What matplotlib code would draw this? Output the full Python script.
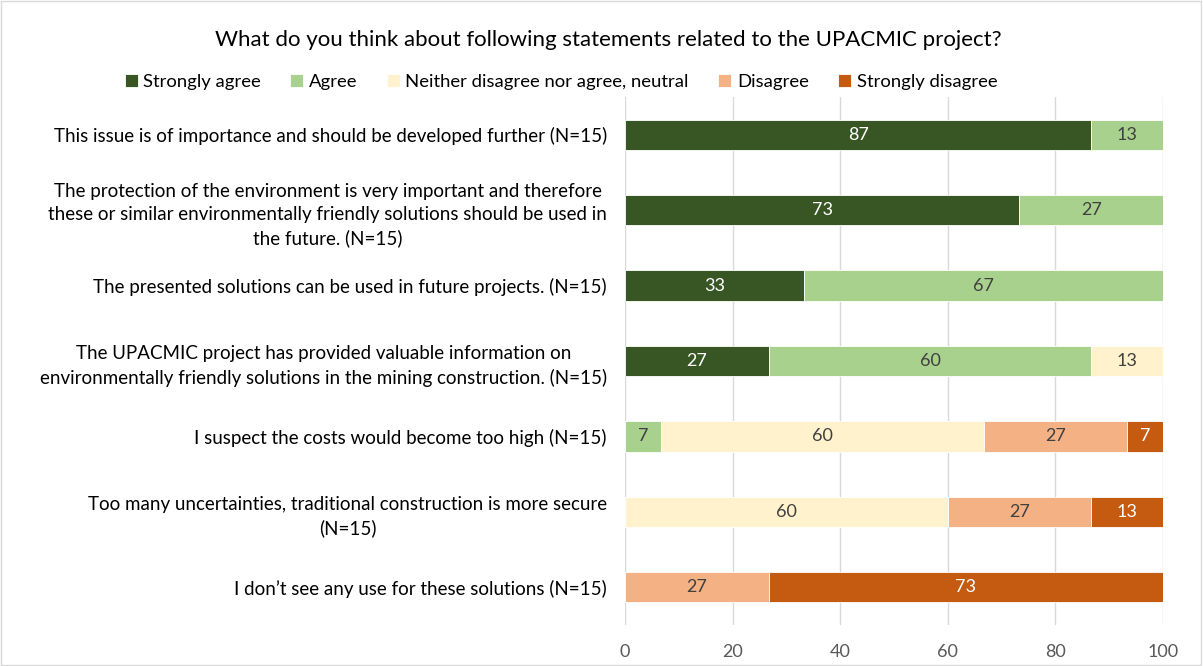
import matplotlib.pyplot as plt
import numpy as np
from matplotlib.patches import Rectangle

plt.rcParams['font.family'] = ['Lato', 'DejaVu Sans']

## data (percent of N=15 answers)
statements = [
    "This issue is of importance and should be developed further (N=15)",
    "The protection of the environment is very important and therefore\n"
    "these or similar environmentally friendly solutions should be used in\n"
    "the future. (N=15)",
    "The presented solutions can be used in future projects. (N=15)",
    "The UPACMIC project has provided valuable information on\n"
    "environmentally friendly solutions in the mining construction. (N=15)",
    "I suspect the costs would become too high (N=15)",
    "Too many uncertainties, traditional construction is more secure\n(N=15)",
    "I don\u2019t see any use for these solutions (N=15)",
]
answers = ["Strongly agree", "Agree", "Neither disagree nor agree, neutral",
           "Disagree", "Strongly disagree"]
strongly_agree = [86.7, 73.3, 33.3, 26.7, 0, 0, 0]
agree = [13.3, 26.7, 66.7, 60.0, 6.7, 0, 0]
neutral = [0, 0, 0, 13.3, 60.0, 60.0, 0]
disagree = [0, 0, 0, 0, 26.7, 26.7, 26.7]
strongly_disagree = [0, 0, 0, 0, 6.7, 13.3, 73.3]
xticks = [0, 20, 40, 60, 80, 100]

series = [strongly_agree, agree, neutral, disagree, strongly_disagree]
colors = ["#375623", "#A9D18E", "#FFF2CC", "#F4B183", "#C55A11"]
text_colors = ["white", "#404040", "#404040", "#404040", "white"]

fig = plt.figure(figsize=(12.03, 6.66), dpi=100)
ax = fig.add_axes([625/1203, 1-625/666, 538/1203, 528/666])

y = np.arange(len(statements))
left = np.zeros(len(statements))
for vals, name, col, tcol in zip(series, answers, colors, text_colors):
    vals = np.array(vals, dtype=float)
    bars = ax.barh(y, vals, left=left, height=0.4, color=col, label=name,
                   edgecolor="white", linewidth=0.6)
    labels = ["%.0f" % v if v > 0 else "" for v in vals]
    ax.bar_label(bars, labels=labels, label_type="center", color=tcol, fontsize=13)
    left += vals

ax.set_ylim(len(statements) - 0.5, -0.5)
ax.set_xlim(0, 100)
ax.set_xticks(xticks)
ax.set_xticklabels([str(t) for t in xticks], fontsize=13, color="#595959")
ax.set_yticks(y)
ax.set_yticklabels(statements, fontsize=13.5, color="black",
                   multialignment="center", linespacing=1.45)
ax.tick_params(length=0)
ax.tick_params(axis="y", pad=13)
ax.tick_params(axis="x", pad=14)
ax.grid(axis="x", color="#d9d9d9", linewidth=1)
ax.set_axisbelow(True)
for s in ax.spines.values():
    s.set_visible(False)

fig.text(608/1203, 1-40/666,
         "What do you think about following statements related to the UPACMIC project?",
         ha="center", va="center", fontsize=16, color="black")
fig.legend(loc="center", bbox_to_anchor=(561/1203, 1-82/666), ncol=5, frameon=False,
           fontsize=13.3, handlelength=0.7, handleheight=0.7, handletextpad=0.3,
           columnspacing=1.6)

fig.patches.append(Rectangle((0.001, 0.001), 0.997, 0.997, transform=fig.transFigure,
                             fill=False, edgecolor="#d9d9d9", linewidth=1))

fig.savefig("out.png", dpi=100)
